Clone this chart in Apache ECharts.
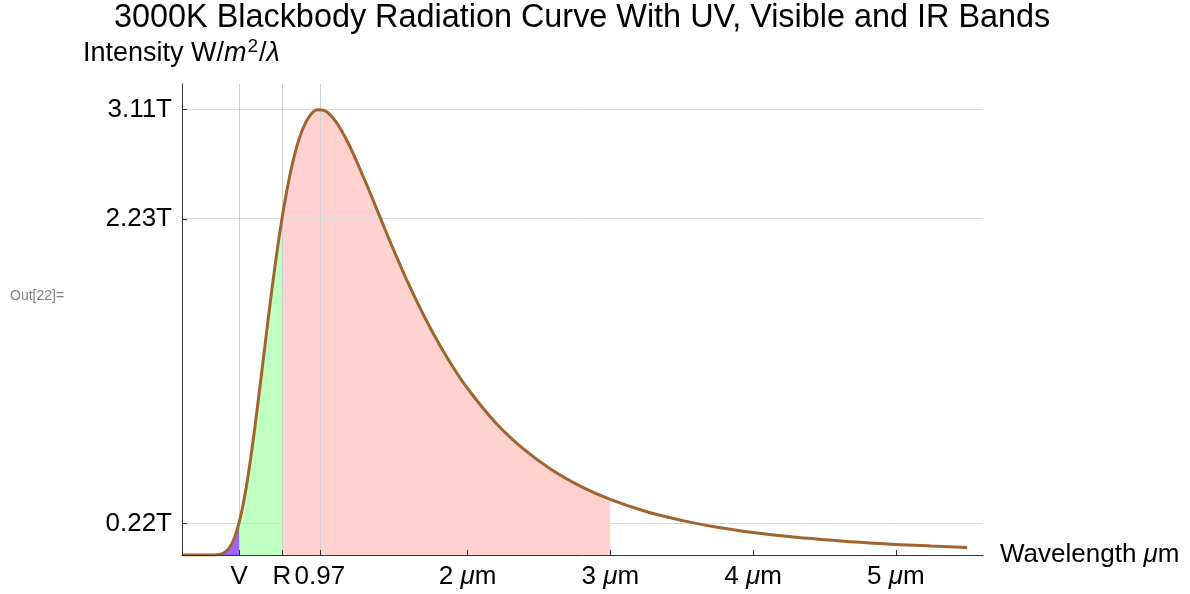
<!DOCTYPE html>
<html>
<head>
<meta charset="utf-8">
<script src="https://cdn.jsdelivr.net/npm/echarts@6/dist/echarts.min.js"></script>
<style>
html,body{margin:0;padding:0;background:#fff;}
#chart{width:1190px;height:594px;}
</style>
</head>
<body>
<div id="chart"></div>
<script>
// ---- data ----
// wavelength in micrometres
var wavelengths = [0, 0.1, 0.15, 0.2, 0.25, 0.3, 0.35, 0.4, 0.45, 0.5, 0.55, 0.6, 0.65, 0.7, 0.75, 0.8, 0.85, 0.9, 0.95, 1.0, 1.05, 1.1, 1.15, 1.2, 1.3, 1.4, 1.5, 1.6, 1.7, 1.8, 1.9, 2.0, 2.2, 2.4, 2.6, 2.8, 3.0, 3.25, 3.5, 3.75, 4.0, 4.25, 4.5, 4.75, 5.0, 5.25, 5.5];
// intensity in T (10^12) W/m^2/λ
var intensity = [0, 0, 0, 0, 0.002, 0.018, 0.080, 0.227, 0.476, 0.817, 1.214, 1.625, 2.016, 2.358, 2.637, 2.851, 3.000, 3.088, 3.125, 3.118, 3.076, 3.007, 2.919, 2.815, 2.584, 2.339, 2.100, 1.874, 1.668, 1.482, 1.316, 1.169, 0.925, 0.737, 0.591, 0.478, 0.390, 0.305, 0.243, 0.195, 0.158, 0.129, 0.107, 0.089, 0.074, 0.063, 0.053];
// band limits (micrometres)
var uvBand = [0, 0.4];
var visibleBand = [0.4, 0.7];
var irBand = [0.7, 3.0];
// x-axis ticks
var xTickValues = [0.4, 0.7, 0.966, 2, 3, 4, 5];
var xTickLabels = ['V', 'R', '0.97', '2 {i|μ}m', '3 {i|μ}m', '4 {i|μ}m', '5 {i|μ}m'];
var xGridValues = [0.4, 0.7, 0.966];
// y-axis ticks (positions as drawn, labels as printed)
var yTickValues = [0.22, 2.358, 3.127];
var yTickLabels = ['0.22T', '2.23T', '3.11T'];

var FONT = '"Liberation Sans", Arial, sans-serif';

function pairs(lo, hi) {
  var out = [];
  for (var i = 0; i < wavelengths.length; i++) {
    if (wavelengths[i] >= lo - 1e-9 && wavelengths[i] <= hi + 1e-9) out.push([wavelengths[i], intensity[i]]);
  }
  return out;
}
function nearestLabel(vals, labels, v) {
  var best = 0, d = Infinity;
  for (var i = 0; i < vals.length; i++) { var dd = Math.abs(vals[i] - v); if (dd < d) { d = dd; best = i; } }
  return d < 1e-6 ? labels[best] : '';
}

var chart = echarts.init(document.getElementById('chart'), null, {renderer: 'canvas'});

function bandSeries(range, color) {
  return {
    type: 'line', data: pairs(range[0], range[1]), smooth: 0.4,
    symbol: 'none', lineStyle: {width: 0, opacity: 0},
    areaStyle: {color: color, opacity: 1}, z: 2, silent: true
  };
}

var gridMarks = yTickValues.map(function (v) {
  return {yAxis: v, lineStyle: {color: '#dcdcdc', width: 1, type: 'solid'}};
}).concat(xGridValues.map(function (v) {
  return {xAxis: v, lineStyle: {color: '#cfcfcf', width: 1, type: 'solid'}};
}));

var option = {
  animation: false,
  backgroundColor: '#ffffff',
  textStyle: {fontFamily: FONT},
  title: {
    text: '3000K Blackbody Radiation Curve With UV, Visible and IR Bands',
    left: 114, top: 2, padding: 0,
    textStyle: {fontFamily: FONT, fontSize: 32.4, fontWeight: 'normal', color: '#000'}
  },
  grid: {left: 182, right: 207, top: 84, bottom: 39, containLabel: false},
  xAxis: {
    type: 'value', min: 0, max: 5.611, z: 10,
    axisLine: {show: true, onZero: false, lineStyle: {color: '#333', width: 1}},
    axisTick: {show: true, inside: true, length: 5, customValues: xTickValues, lineStyle: {color: '#333'}},
    axisLabel: {
      show: true, customValues: xTickValues, margin: 9,
      fontFamily: FONT, fontSize: 26, color: '#000',
      formatter: function (v) { return nearestLabel(xTickValues, xTickLabels, v); },
      rich: {i: {fontFamily: FONT, fontSize: 26, fontStyle: 'italic', color: '#000'}}
    },
    splitLine: {show: false},
    name: 'Wavelength {i|μ}m', nameLocation: 'end', nameGap: 17,
    nameTextStyle: {fontFamily: FONT, fontSize: 26, color: '#000', align: 'left', verticalAlign: 'middle',
      rich: {i: {fontFamily: FONT, fontSize: 26, fontStyle: 'italic', color: '#000'}}}
  },
  yAxis: {
    type: 'value', min: 0, max: 3.305, z: 10,
    axisLine: {show: true, onZero: false, lineStyle: {color: '#333', width: 1}},
    axisTick: {show: true, inside: true, length: 5, customValues: yTickValues, lineStyle: {color: '#333'}},
    axisLabel: {
      show: true, customValues: yTickValues, margin: 10,
      fontFamily: FONT, fontSize: 26, color: '#000',
      formatter: function (v) { return nearestLabel(yTickValues, yTickLabels, v); }
    },
    splitLine: {show: false}
  },
  graphic: [
    {
      type: 'text', left: 83, top: 37, z: 20,
      style: {
        text: 'Intensity W/{i|m}{sup|2}/{i|λ}',
        fontFamily: FONT, fontSize: 27, fill: '#000',
        rich: {
          i: {fontFamily: FONT, fontSize: 27, fontStyle: 'italic', fill: '#000'},
          sup: {fontFamily: FONT, fontSize: 19, fill: '#000', padding: [0, 1, 14, 1]}
        }
      }
    },
    {
      type: 'text', left: 10, top: 289, z: 20,
      style: {text: 'Out[22]=', fontFamily: FONT, fontSize: 14, fill: '#808080'}
    }
  ],
  series: [
    {
      type: 'line', data: [[0, 0]], symbol: 'none', lineStyle: {width: 0, opacity: 0}, z: 1, silent: true,
      markLine: {silent: true, symbol: ['none', 'none'], label: {show: false}, animation: false, data: gridMarks}
    },
    bandSeries(uvBand, '#9966ff'),
    bandSeries(visibleBand, '#bfffbf'),
    bandSeries(irBand, '#ffd1d1'),
    {
      type: 'line', data: pairs(0, 100), smooth: 0.4, symbol: 'none',
      lineStyle: {color: '#a0642e', width: 3}, z: 5, silent: true
    }
  ]
};
chart.setOption(option);
</script>
</body>
</html>
